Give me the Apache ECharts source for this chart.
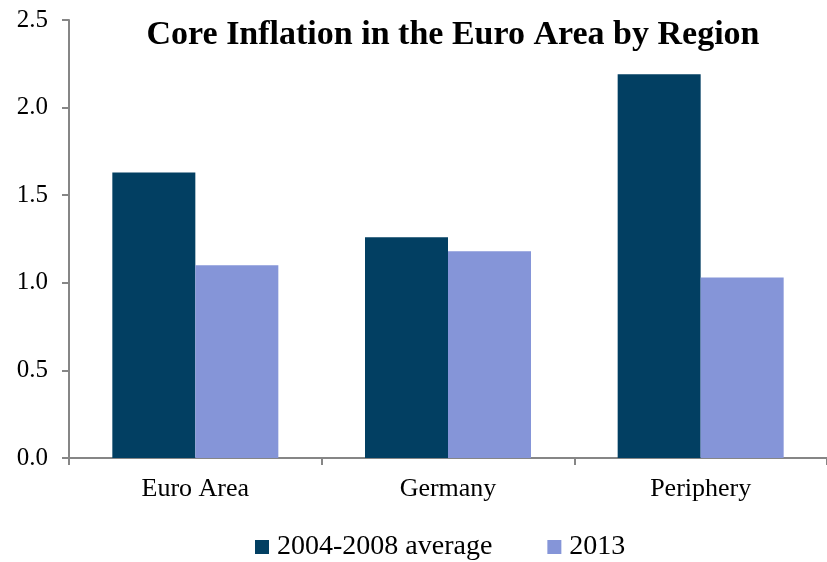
<!DOCTYPE html>
<html>
<head>
    <meta charset="utf-8">
    <script src="https://cdn.jsdelivr.net/npm/echarts@6/dist/echarts.min.js"></script>
    <style>
        html, body { margin: 0; padding: 0; background: #fff; }
        #main { width: 827px; height: 562px; }
    </style>
</head>
<body>
    <div id="main"></div>
    <script type="text/javascript">
    var categories = ['Euro Area', 'Germany', 'Periphery'];
    var seriesNames = ['2004-2008 average', '2013'];
    var avg0408 = [1.63, 1.26, 2.19];
    var y2013 = [1.10, 1.18, 1.03];

    var font = "'Liberation Serif', 'DejaVu Serif', serif";
    var myChart = echarts.init(document.getElementById('main'));

    var option = {
        animation: false,
        textStyle: { fontFamily: font },
        title: {
            text: 'Core Inflation in the Euro Area by Region',
            left: 448,
            textAlign: 'center',
            top: 13,
            textStyle: { fontFamily: font, fontSize: 34, fontWeight: 'bold', color: '#000' }
        },
        legend: {
            top: 528,
            left: 250,
            itemWidth: 14,
            itemHeight: 14,
            itemGap: 55,
            icon: 'rect',
            textStyle: { fontFamily: font, fontSize: 28, color: '#000', padding: [0, 0, 0, 3] },
            data: seriesNames
        },
        grid: { left: 69, right: -4, top: 20, bottom: 104, containLabel: false },
        xAxis: {
            type: 'category',
            data: categories,
            axisLine: { lineStyle: { color: '#868686', width: 2 } },
            axisTick: { show: true, length: 7, lineStyle: { color: '#868686', width: 2 } },
            axisLabel: { fontFamily: font, fontSize: 26, color: '#000', margin: 18 }
        },
        yAxis: {
            type: 'value',
            min: 0,
            max: 2.5,
            interval: 0.5,
            splitLine: { show: false },
            axisLine: { show: true, lineStyle: { color: '#868686', width: 2 } },
            axisTick: { show: true, length: 7, lineStyle: { color: '#868686', width: 2 } },
            axisLabel: {
                fontFamily: font, fontSize: 25, color: '#000', margin: 21,
                formatter: function (v) { return v.toFixed(1); }
            }
        },
        series: [
            {
                name: seriesNames[0],
                type: 'bar',
                barWidth: 83,
                barGap: '0%',
                itemStyle: { color: '#023F62' },
                data: avg0408
            },
            {
                name: seriesNames[1],
                type: 'bar',
                barWidth: 83,
                barGap: '0%',
                itemStyle: { color: '#8595D8' },
                data: y2013
            }
        ]
    };

    myChart.setOption(option);
</script>
</body>
</html>
